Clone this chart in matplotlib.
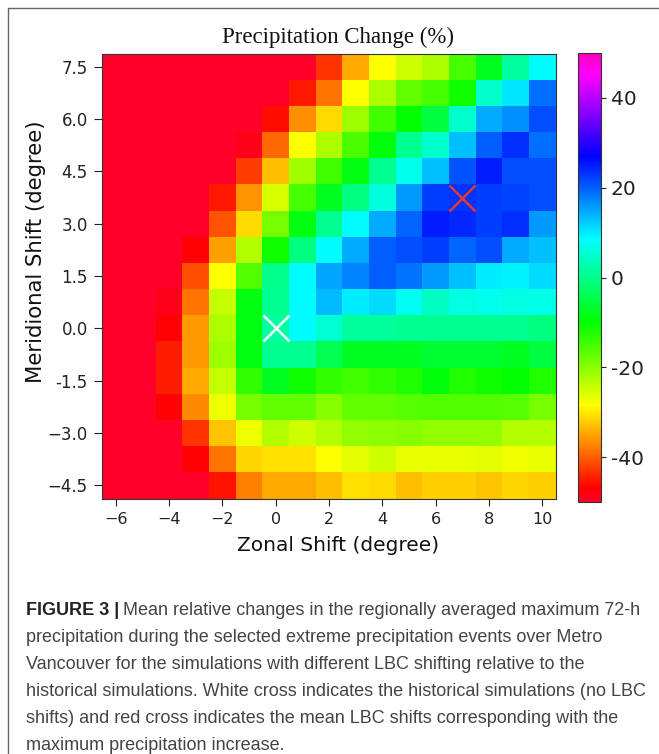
import matplotlib
matplotlib.use("Agg")
import matplotlib.pyplot as plt
from matplotlib.patches import Rectangle

# zonal shift (x) and meridional shift (y) of the LBCs, in degrees
zonal = [-6, -5, -4, -3, -2, -1, 0, 1, 2, 3, 4, 5, 6, 7, 8, 9, 10]
meridional = [7.5, 6.75, 6.0, 5.25, 4.5, 3.75, 3.0, 2.25, 1.5, 0.75,
              0.0, -0.75, -1.5, -2.25, -3.0, -3.75, -4.5]

# precipitation change (%), one row per meridional shift (top row = 7.5)
change = [
    [-50, -50, -50, -50, -50, -50, -50, -50, -43.3, -34.6, -28.5, -24.8, -22.4, -15.0, -7.7, 1.7, 8.6],
    [-50, -50, -50, -50, -50, -50, -50, -45.0, -38.3, -28.5, -22.4, -16.9, -15.0, -11.0, 4.9, 10.3, 18.9],
    [-50, -50, -50, -50, -50, -50, -46.0, -36.5, -30.9, -21.1, -14.6, -10.0, -5.3, 4.9, 14.7, 16.7, 21.3],
    [-50, -50, -50, -50, -50, -48.5, -39.2, -28.5, -22.4, -15.4, -9.0, 0.4, 4.9, 13.2, 20.1, 23.5, 18.9],
    [-50, -50, -50, -50, -50, -42.4, -33.1, -21.7, -14.6, -8.9, 0.4, 7.4, 13.2, 20.9, 24.7, 21.3, 21.3],
    [-50, -50, -50, -50, -45.0, -36.0, -25.5, -15.0, -7.7, -0.7, 6.2, 16.0, 22.4, 23.1, 22.4, 22.0, 21.3],
    [-50, -50, -50, -50, -41.0, -30.9, -18.7, -8.9, 0.4, 8.6, 14.7, 19.6, 24.7, 24.1, 22.4, 23.5, 16.0],
    [-50, -50, -50, -47.0, -35.4, -23.0, -11.2, -0.7, 8.6, 14.7, 20.1, 21.3, 22.4, 19.6, 21.3, 14.7, 13.2],
    [-50, -50, -50, -41.3, -28.5, -15.8, 0.2, 8.6, 15.0, 17.5, 20.1, 18.5, 16.0, 13.0, 9.8, 9.7, 11.0],
    [-50, -50, -48.5, -38.5, -23.9, -8.9, 0.4, 8.6, 13.3, 9.8, 11.0, 7.5, 4.0, 6.4, 7.4, 6.4, 7.0],
    [-50, -50, -47.0, -35.9, -22.4, -8.9, 1.7, 8.6, 5.2, 1.2, 1.2, 0.4, 0.4, 0.4, 0.4, 0.4, -0.7],
    [-50, -50, -44.7, -35.9, -21.1, -8.9, 0.4, 0.4, -4.2, -7.7, -7.7, -7.7, -6.5, -6.5, -6.5, -7.7, -5.3],
    [-50, -50, -44.7, -34.6, -23.9, -13.5, -7.7, -11.2, -13.5, -14.6, -13.5, -12.3, -9.0, -12.3, -11.2, -10.0, -12.3],
    [-50, -50, -47.0, -37.0, -27.3, -18.7, -16.9, -16.9, -19.8, -16.9, -16.9, -16.2, -15.8, -15.8, -15.8, -16.2, -18.7],
    [-50, -50, -50, -43.0, -32.6, -27.0, -22.8, -25.0, -22.8, -20.4, -20.2, -19.8, -20.4, -20.4, -20.4, -23.0, -22.8],
    [-50, -50, -50, -47.0, -38.3, -31.3, -30.7, -30.7, -28.5, -26.3, -24.8, -26.8, -26.8, -26.8, -26.3, -27.2, -26.8],
    [-50, -50, -50, -50, -45.5, -37.8, -34.6, -34.6, -33.1, -30.7, -30.9, -33.1, -31.8, -31.8, -32.8, -31.3, -31.8],
]

# crosses: historical run (white) and shift with max increase (red)
historical = (0, 0.0)
best_shift = (7, 3.75)

y_ticks = [7.5, 6.0, 4.5, 3.0, 1.5, 0.0, -1.5, -3.0, -4.5]
y_tick_labels = ["7.5", "6.0", "4.5", "3.0", "1.5", "0.0", "-1.5", "\u22123.0", "\u22124.5"]
cbar_ticks = [-40, -20, 0, 20, 40]
cbar_labels = ["-40", "-20", "0", "20", "40"]

caption = [
    "Mean relative changes in the regionally averaged maximum 72-h",
    "precipitation during the selected extreme precipitation events over Metro",
    "Vancouver for the simulations with different LBC shifting relative to the",
    "historical simulations. White cross indicates the historical simulations (no LBC",
    "shifts) and red cross indicates the mean LBC shifts corresponding with the",
    "maximum precipitation increase.",
]


def main():
    W, H = 659, 754
    fig = plt.figure(figsize=(W / 100, H / 100), dpi=100)
    ax = fig.add_axes([102.4 / W, 1 - 498.5 / H, 453.3 / W, 444.9 / H])
    cax = fig.add_axes([578 / W, 1 - 502 / H, 23 / W, 449 / H])

    mesh = ax.pcolormesh(zonal, meridional, change, cmap="gist_rainbow",
                         vmin=-50, vmax=50, shading="nearest")
    ax.plot(*historical, marker="x", color="white", markersize=19, mew=1.8)
    ax.plot(*best_shift, marker="x", color="#e8392f", markersize=19, mew=1.8)

    ax.set_xlim(-6.5, 10.5)
    ax.set_ylim(-4.875, 7.875)
    ax.set_xticks([-6, -4, -2, 0, 2, 4, 6, 8, 10])
    ax.set_yticks(y_ticks)
    ax.set_yticklabels(y_tick_labels)
    ax.tick_params(axis="x", labelsize=11.5, colors="#222222", length=4.7, pad=5)
    ax.tick_params(axis="y", labelsize=12, colors="#222222", length=5.5, pad=5)
    for s in ax.spines.values():
        s.set_color("#333333")

    cb = fig.colorbar(mesh, cax=cax, ticks=cbar_ticks)
    cb.ax.set_yticklabels(cbar_labels)
    cb.ax.tick_params(labelsize=14.5, colors="#222222")
    cb.outline.set_edgecolor("#333333")

    fig.text(338 / W, 1 - 43 / H, "Precipitation Change (%)", family="Liberation Serif",
             fontsize=16.5, ha="center", va="baseline", color="#111111")
    fig.text(338 / W, 1 - 551 / H, "Zonal Shift (degree)", fontsize=14.5,
             ha="center", va="baseline", color="#111111")
    fig.text(36 / W, 1 - 252 / H, "Meridional Shift (degree)", fontsize=15.3,
             ha="center", va="center", rotation=90, color="#111111")

    # frame around the figure panel
    fig.patches.append(Rectangle((8 / W, -0.1), 1.2, 1.1 - 8 / H, transform=fig.transFigure,
                                 fill=False, edgecolor="#666666", lw=1))

    # caption: size the text so the longest line fits like in the figure
    cap_font = ["Liberation Sans Narrow", "Liberation Sans"]
    renderer = fig.canvas.get_renderer()
    probe = fig.text(0, 0, caption[3], family=cap_font, fontsize=15)
    size = 15 * 620 / probe.get_window_extent(renderer).width
    probe.remove()

    head = fig.text(26 / W, 1 - 615 / H, "FIGURE 3 |", family=cap_font, fontsize=size,
                    weight="bold", va="baseline", color="#222222")
    bb = head.get_window_extent(renderer)
    for i, line in enumerate(caption):
        x = (bb.x1 + 4) / W if i == 0 else 26 / W
        fig.text(x, 1 - (615 + 27 * i) / H, line, family=cap_font, fontsize=size,
                 va="baseline", color="#444444")

    fig.savefig("out.png", dpi=100)


if __name__ == "__main__":
    main()
